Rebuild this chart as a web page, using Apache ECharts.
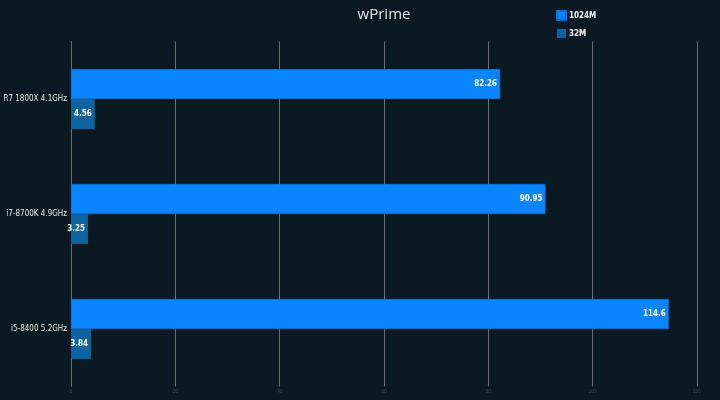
<!DOCTYPE html>
<html><head><meta charset="utf-8">
<script src="https://cdn.jsdelivr.net/npm/echarts@6/dist/echarts.min.js"></script>
<style>html,body{margin:0;padding:0;background:#0b1a22}#c{width:720px;height:400px}</style>
</head><body><div id="c"></div>
<script>
const categories = ['R7 1800X 4.1GHz', 'i7-8700K 4.9GHz', 'i5-8400 5.2GHz'];
const series1024M = [82.26, 90.95, 114.6];
const series32M = [4.56, 3.25, 3.84];
const xTicks = [0, 20, 40, 60, 80, 100, 120];

const FONT = 'DejaVu Sans Condensed, Liberation Sans Narrow, sans-serif';
const chart = echarts.init(document.getElementById('c'));
const lbl = {show: true, position: 'insideRight', distance: 3, color: '#ffffff', fontWeight: 'bold', fontSize: 8, fontFamily: FONT};
chart.setOption({
  backgroundColor: '#0b1a22',
  animation: false,
  title: {text: 'wPrime', left: 384, textAlign: 'center', top: 7, padding: 0, textStyle: {color: '#e6e6e6', fontSize: 15, fontWeight: 'normal', fontFamily: 'Open Sans, sans-serif'}},
  legend: {orient: 'vertical', left: 556, top: 10, padding: 0, itemWidth: 9, itemHeight: 9, itemGap: 8, icon: 'rect',
    textStyle: {color: '#ffffff', fontWeight: 'bold', fontSize: 8, fontFamily: FONT, padding: [0, 0, 0, -2]}},
  grid: {left: 71, right: 23, top: 41.5, bottom: 13.5, containLabel: false, outerBoundsMode: 'none'},
  xAxis: {type: 'value', min: xTicks[0], max: xTicks[xTicks.length-1], interval: 20,
    axisLine: {show: false}, axisTick: {show: false},
    splitLine: {lineStyle: {color: '#6a6f73', width: 1}},
    axisLabel: {color: '#3a444b', fontSize: 5, margin: 3}},
  yAxis: {type: 'category', data: categories, inverse: true,
    axisLine: {show: true, lineStyle: {color: '#6a6f73'}}, axisTick: {show: false},
    axisLabel: {color: '#e6e6e6', fontSize: 8, margin: 4, fontFamily: FONT}},
  series: [
    {name: '1024M', type: 'bar', data: series1024M, barWidth: 30, barGap: '0%', itemStyle: {color: '#0a84ff', borderColor: '#0a6fd6', borderWidth: 0.5}, label: lbl},
    {name: '32M', type: 'bar', data: series32M, barWidth: 30, barGap: '0%', itemStyle: {color: '#0b64a0'}, label: lbl}
  ]
});
</script></body></html>
